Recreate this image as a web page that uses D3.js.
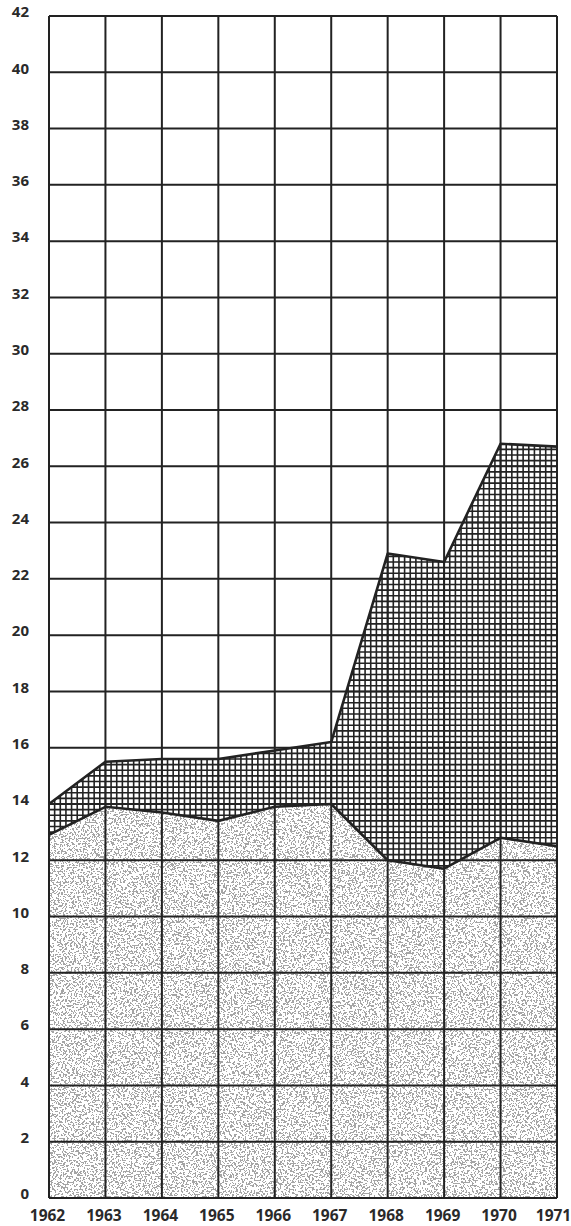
<!DOCTYPE html>
<html>
<head>
<meta charset="utf-8">
<script src="https://cdn.jsdelivr.net/npm/d3@7"></script>
<style>
  body { margin: 0; background: #fff; }
  svg { display: block; }
</style>
</head>
<body>
<svg id="chart"></svg>
<script>
// values
const years = [1962, 1963, 1964, 1965, 1966, 1967, 1968, 1969, 1970, 1971];
const lowerValues = [12.9, 13.9, 13.7, 13.4, 13.9, 14.0, 12.0, 11.7, 12.8, 12.5];
const upperValues = [14.0, 15.5, 15.6, 15.6, 15.9, 16.2, 22.9, 22.6, 26.8, 26.7];
const yTicks = d3.range(0, 43, 2);
const xTicks = years;

const WIDTH = 571, HEIGHT = 1226;
const MARGIN = { left: 49, right: 14, top: 16, bottom: 28 };
const INK = '#222';

const svg = d3.select('#chart').attr('width', WIDTH).attr('height', HEIGHT);

const x = d3.scaleLinear().domain([1962, 1971]).range([MARGIN.left, WIDTH - MARGIN.right]);
const y = d3.scaleLinear().domain([0, 42]).range([HEIGHT - MARGIN.bottom, MARGIN.top]);

const rows = years.map((yr, i) => ({ year: yr, lo: lowerValues[i], hi: upperValues[i] }));

const defs = svg.append('defs');

// stipple texture
const f = defs.append('filter').attr('id', 'stipple')
  .attr('x', 0).attr('y', 0).attr('width', 1).attr('height', 1)
  .attr('filterUnits', 'objectBoundingBox');
f.append('feTurbulence').attr('type', 'fractalNoise').attr('baseFrequency', 0.55)
  .attr('numOctaves', 2).attr('seed', 7).attr('result', 'noise');
f.append('feColorMatrix').attr('type', 'matrix')
  .attr('values', '0 0 0 0 0.3  0 0 0 0 0.3  0 0 0 0 0.3  1 0 0 0 0')
  .attr('result', 'm');
const ct = f.append('feComponentTransfer');
ct.append('feFuncA').attr('type', 'discrete')
  .attr('tableValues', '0 0 0 0 0 0 0 0 0 0 0 0.85 0.85 0.85 0.85 0.85 0.85 0.85 0.85 0.85');

const lowerArea = d3.area().x(d => x(d.year)).y0(y(0)).y1(d => y(d.lo));
const bandArea = d3.area().x(d => x(d.year)).y0(d => y(d.lo)).y1(d => y(d.hi));

defs.append('clipPath').attr('id', 'clipLower').append('path').attr('d', lowerArea(rows));
defs.append('clipPath').attr('id', 'clipBand').append('path').attr('d', bandArea(rows));

// stippled lower area
svg.append('g').attr('clip-path', 'url(#clipLower)')
  .append('rect')
  .attr('x', x(1962)).attr('y', y(42))
  .attr('width', x(1971) - x(1962)).attr('height', y(0) - y(42))
  .attr('fill', '#fff')
  .attr('filter', 'url(#stipple)');

// fine cross-hatch in the band
const hatch = svg.append('g').attr('clip-path', 'url(#clipBand)')
  .attr('stroke', INK).attr('stroke-width', 1.6);
hatch.selectAll('line.hv')
  .data(d3.range(0, 91).map(k => 1962 + k / 10))
  .join('line').attr('class', 'hv')
  .attr('x1', d => x(d)).attr('x2', d => x(d))
  .attr('y1', y(0)).attr('y2', y(42));
hatch.selectAll('line.hh')
  .data(d3.range(0, 211).map(k => k / 5))
  .join('line').attr('class', 'hh')
  .attr('y1', d => y(d)).attr('y2', d => y(d))
  .attr('x1', x(1962)).attr('x2', x(1971));

// main grid
const grid = svg.append('g').attr('stroke', INK).attr('stroke-width', 2);
grid.selectAll('line.gv').data(xTicks).join('line').attr('class', 'gv')
  .attr('x1', d => x(d)).attr('x2', d => x(d))
  .attr('y1', y(0)).attr('y2', y(42));
grid.selectAll('line.gh').data(yTicks).join('line').attr('class', 'gh')
  .attr('y1', d => y(d)).attr('y2', d => y(d))
  .attr('x1', x(1962)).attr('x2', x(1971));

// boundary lines
const line = key => d3.line().x(d => x(d.year)).y(d => y(d[key]));
svg.append('path').attr('d', line('lo')(rows))
  .attr('fill', 'none').attr('stroke', INK).attr('stroke-width', 2.6).attr('stroke-linejoin', 'round');
svg.append('path').attr('d', line('hi')(rows))
  .attr('fill', 'none').attr('stroke', INK).attr('stroke-width', 2.6).attr('stroke-linejoin', 'round');

// axes labels
const yAxis = svg.append('g')
  .attr('transform', `translate(${MARGIN.left},0)`)
  .call(d3.axisLeft(y).tickValues(yTicks).tickSize(0).tickPadding(20).tickFormat(d3.format('d')));
yAxis.select('.domain').remove();
yAxis.selectAll('text')
  .attr('y', -4)
  .attr('fill', '#2a2a2a')
  .style('font-family', '"Open Sans", sans-serif')
  .style('font-weight', 700)
  .style('font-size', '15px');

const xAxis = svg.append('g')
  .attr('transform', `translate(0,${y(0)})`)
  .call(d3.axisBottom(x).tickValues(xTicks).tickSize(0).tickPadding(12).tickFormat(d3.format('d')));
xAxis.select('.domain').remove();
xAxis.selectAll('text')
  .attr('x', d => d === 1971 ? -4 : -2)
  .attr('fill', '#2a2a2a')
  .style('font-family', '"Open Sans", sans-serif')
  .style('font-weight', 700)
  .style('font-size', '15.5px');
</script>
</body>
</html>
